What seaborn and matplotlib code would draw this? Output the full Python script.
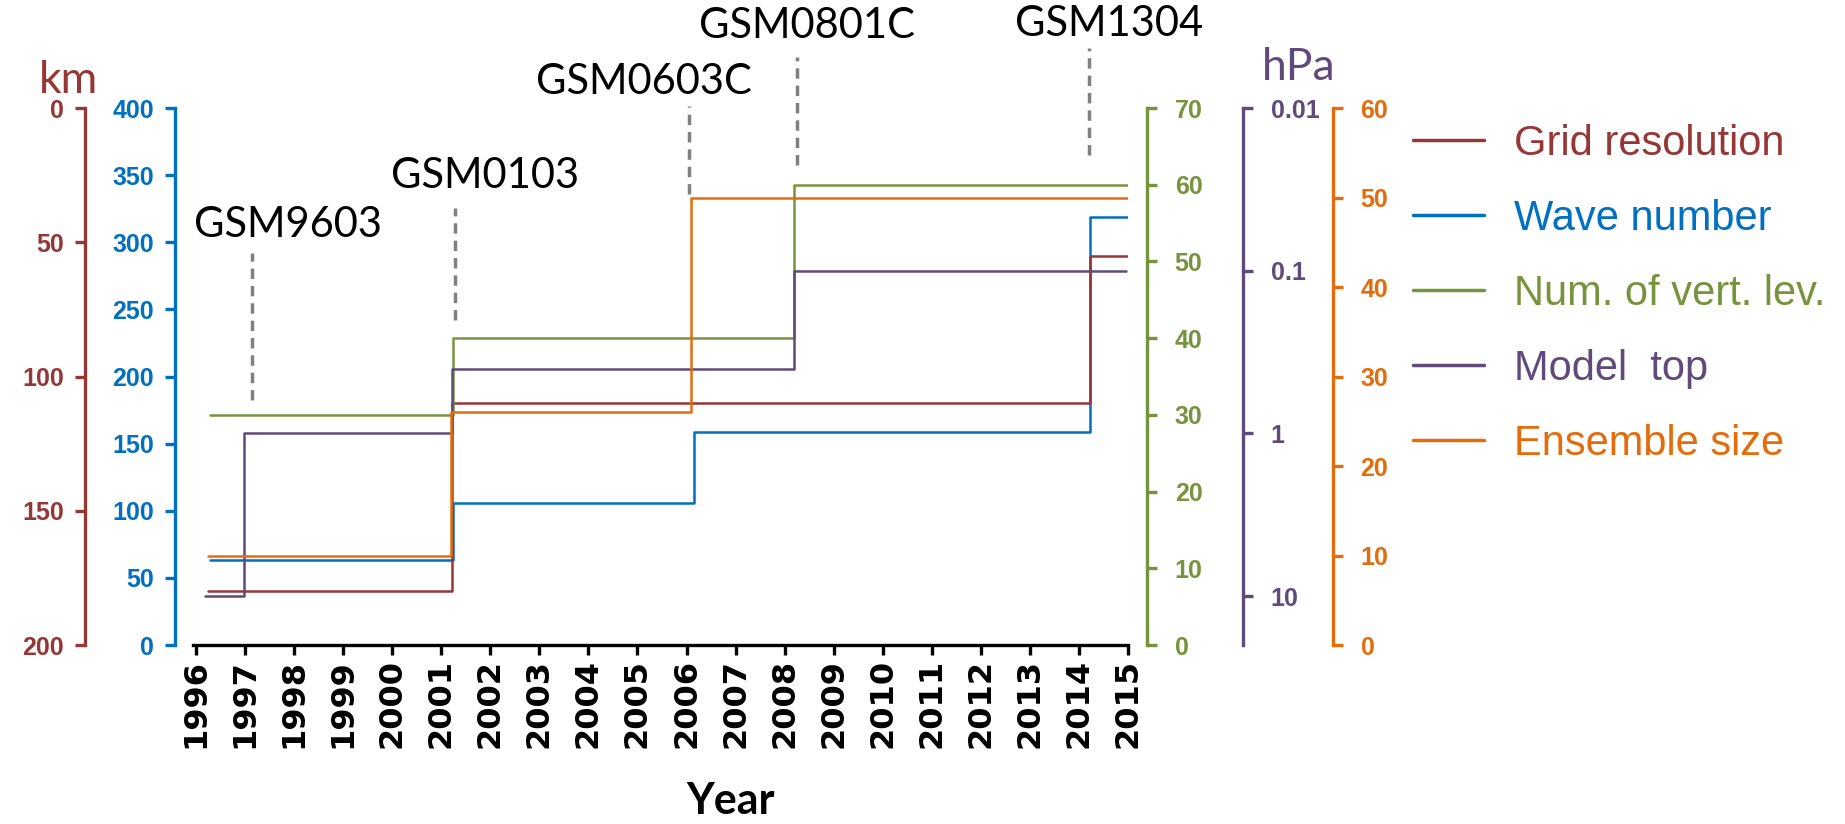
import matplotlib
matplotlib.use("Agg")
import matplotlib.pyplot as plt
import matplotlib.transforms as mtransforms
from matplotlib.lines import Line2D
import pandas as pd
import seaborn as sns

# step series: each value holds from its year until the next year in the list
grid_years = [1996.25, 2001.22, 2014.22, 2014.98]
grid_km = [180, 110, 55, 55]

wave_years = [1996.28, 2001.25, 2006.15, 2014.22, 2015.0]
wave_num = [63, 106, 159, 319, 319]

vlev_years = [1996.28, 2001.25, 2008.2, 2015.0]
vlev_num = [30, 40, 60, 60]

top_years = [1996.18, 1996.98, 2001.22, 2008.2, 2014.95]
top_hpa = [10, 1, 0.4, 0.1, 0.1]

ens_years = [1996.25, 2001.2, 2006.1, 2015.0]
ens_size = [10, 26, 50, 50]

versions = ["GSM9603", "GSM0103", "GSM0603C", "GSM0801C", "GSM1304"]
version_years = [1997.14, 2001.28, 2006.06, 2008.25, 2014.2]

year_ticks = list(range(1996, 2016))
km_ticks = [0, 50, 100, 150, 200]
wave_ticks = [0, 50, 100, 150, 200, 250, 300, 350, 400]
vlev_ticks = [0, 10, 20, 30, 40, 50, 60, 70]
top_ticks = [0.01, 0.1, 1, 10]
top_labels = ["0.01", "0.1", "1", "10"]
ens_ticks = [0, 10, 20, 30, 40, 50, 60]

legend_labels = ["Grid resolution", "Wave number", "Num. of vert. lev.",
                 "Model  top", "Ensemble size"]

RED = "#953735"
BLUE = "#0070C0"
GREEN = "#77933C"
PURPLE = "#604A7B"
ORANGE = "#E46C0A"
GRAY = "#808080"

sns.set_theme(style="white")
plt.rcParams["font.family"] = ["DejaVu Sans"]

fig = plt.figure(figsize=(18.45, 8.24), dpi=100)
ax = fig.add_axes([0.1046, 0.2172, 0.5068, 0.6517])
ax_km = ax.twinx()
ax_lev = ax.twinx()
ax_top = ax.twinx()
ax_ens = ax.twinx()


def step(axis, xs, ys, color):
    df = pd.DataFrame({"year": xs, "val": ys})
    sns.lineplot(data=df, x="year", y="val", ax=axis, color=color, lw=1.8,
                 drawstyle="steps-post", legend=False)
    axis.set_xlabel("")
    axis.set_ylabel("")


def style_axis(axis, side, pos, color, ticks, labels=None):
    for s in axis.spines.values():
        s.set_visible(False)
    sp = axis.spines[side]
    sp.set_visible(True)
    sp.set_position(("axes", pos))
    sp.set_color(color)
    sp.set_linewidth(2.4)
    if side == "left":
        axis.yaxis.tick_left()
        pad = 8
    else:
        axis.yaxis.tick_right()
        pad = 13
    axis.set_yticks(ticks)
    axis.set_yticklabels(labels if labels else [str(t) for t in ticks],
                         fontweight="bold", fontsize=18,
                         family="Liberation Sans")
    axis.tick_params(axis="y", which="major", colors=color, direction="out",
                     length=7, width=2.4, pad=pad)
    axis.tick_params(axis="y", which="minor", length=0)
    axis.grid(False)


step(ax, wave_years, wave_num, BLUE)
step(ax_km, grid_years, grid_km, RED)
step(ax_lev, vlev_years, vlev_num, GREEN)
step(ax_top, top_years, top_hpa, PURPLE)
step(ax_ens, ens_years, ens_size, ORANGE)

ax.set_ylim(0, 400)
ax_km.set_ylim(200, 0)
ax_lev.set_ylim(0, 70)
ax_top.set_yscale("log")
ax_top.set_ylim(20, 0.01)
ax_ens.set_ylim(0, 60)

style_axis(ax, "left", -0.0193, BLUE, wave_ticks)
style_axis(ax_km, "left", -0.1155, RED, km_ticks)
style_axis(ax_lev, "right", 1.0203, GREEN, vlev_ticks)
style_axis(ax_top, "right", 1.123, PURPLE, top_ticks, top_labels)
style_axis(ax_ens, "right", 1.219, ORANGE, ens_ticks)

# x axis
ax.spines["bottom"].set_visible(True)
ax.spines["bottom"].set_color("black")
ax.spines["bottom"].set_linewidth(2.4)
ax.set_xlim(1995.94, 2015.0)
ax.set_xticks(year_ticks)
ax.set_xticklabels([str(y) for y in year_ticks], rotation=90,
                   fontweight="bold", fontsize=23)
ax.tick_params(axis="x", colors="black", direction="out", length=7,
               width=2.4, pad=3, bottom=True)

# model version markers
trans = mtransforms.blended_transform_factory(ax.transData, ax.transAxes)
line_spans = [(0.456, 0.730), (0.605, 0.814), (0.840, 1.004),
              (0.894, 1.095), (0.912, 1.112)]
text_pos = [(1997.88, 0.782), (2001.89, 0.873), (2005.13, 1.048),
            (2008.46, 1.153), (2014.61, 1.156)]
for name, yr, (y0, y1), (tx, ty) in zip(versions, version_years, line_spans, text_pos):
    ax.plot([yr, yr], [y0, y1], transform=trans, clip_on=False,
            color=GRAY, lw=2.5, ls=(0, (3, 2)))
    ax.text(tx, ty, name, transform=trans, ha="center", va="center",
            fontsize=30, family="Lato", color="black", clip_on=False)

# axis unit labels
fig.text(68 / 1845, 1 - 93 / 824, "km", ha="center", va="baseline",
         fontsize=32, family="Lato", color=RED)
fig.text(1299 / 1845, 1 - 80 / 824, "hPa", ha="center", va="baseline",
         fontsize=32, family="Lato", color=PURPLE)
fig.text(731 / 1845, 1 - 814 / 824, "Year", ha="center", va="baseline",
         fontsize=31, family="Lato", fontweight="bold", color="black")

# legend
handles = [Line2D([], [], color=c, lw=2.5) for c in [RED, BLUE, GREEN, PURPLE, ORANGE]]
fig.legend(handles, legend_labels, loc="upper left",
           bbox_to_anchor=(1413 / 1845, 1 - 124 / 824), frameon=False,
           prop={"family": "Liberation Sans", "size": 30},
           handlelength=1.7, handletextpad=0.72, labelspacing=0.84,
           labelcolor="linecolor", borderaxespad=0, borderpad=0)

fig.savefig("out.png", dpi=100)
